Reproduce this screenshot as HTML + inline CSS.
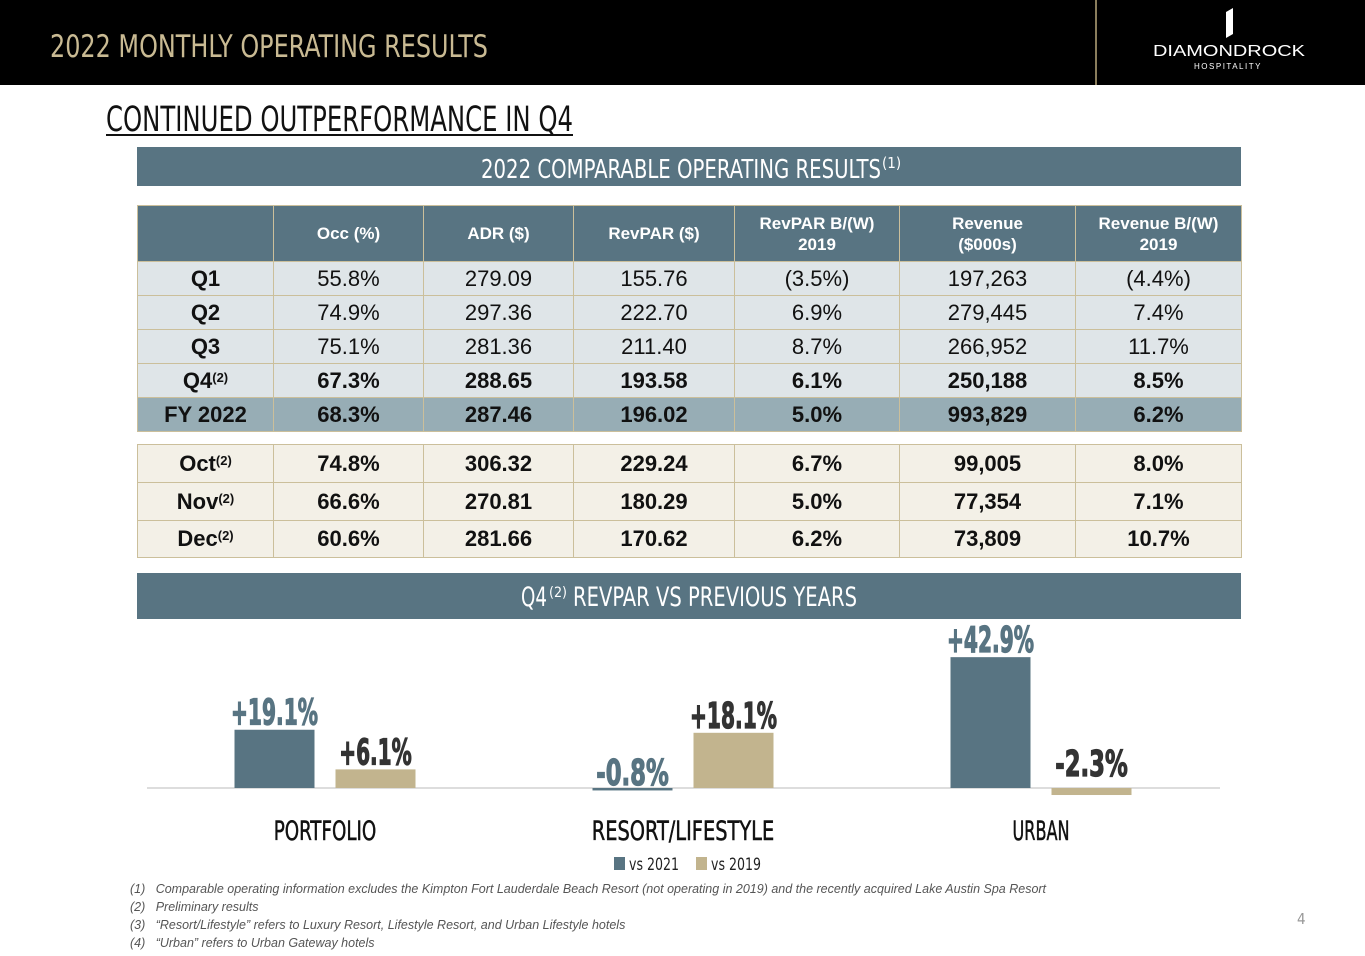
<!DOCTYPE html>
<html><head><meta charset="utf-8">
<style>
body{margin:0;width:1365px;height:956px;position:relative;background:#fff;font-family:"Liberation Sans",sans-serif;overflow:hidden}
.abs{position:absolute}
table{border-collapse:collapse;table-layout:fixed;position:absolute;left:137px;width:1104px}
td{border:1px solid #cbbf9b;text-align:center;color:#111;font-size:22px;padding:0}
.t1 td{background:#dfe5e8}
.t1 tr.hd td{background:#587482;color:#fff;font-weight:bold;font-size:17px;line-height:21px}
.t1 tr.fy td{background:#97adb5;font-weight:bold}
.t1 tr.b td{font-weight:bold}
td.lab{font-weight:bold}
.t2 td{background:#f3f0e7;font-weight:bold}
sup{font-size:13px;vertical-align:6px;font-weight:bold}
</style></head><body>
<div class="abs" style="left:0;top:0;width:1365px;height:85px;background:#000"></div>
<div class="abs" style="left:1095px;top:0;width:2px;height:85px;background:#8a7d5c"></div>
<svg class="abs" style="left:0;top:0" width="1365" height="956">
<text x="50" y="57" font-family="DejaVu Sans Condensed, Liberation Sans, sans-serif" font-size="31" fill="#c9ba93" textLength="438" lengthAdjust="spacingAndGlyphs">2022 MONTHLY OPERATING RESULTS</text>
<g>
<path d="M1226 12 L1233 8 L1233 34 L1226 38 Z" fill="#fff"/>
<text x="1229" y="56" text-anchor="middle" font-size="16" fill="#fff" font-family="Liberation Sans, sans-serif" textLength="152" lengthAdjust="spacingAndGlyphs">DIAMONDROCK</text>
<text x="1228" y="69" text-anchor="middle" font-size="8" fill="#fff" font-family="Liberation Sans, sans-serif" letter-spacing="1.5">HOSPITALITY</text>
</g>
<text x="106" y="131" font-family="DejaVu Sans Condensed, Liberation Sans, sans-serif" font-size="35" fill="#111" textLength="467" lengthAdjust="spacingAndGlyphs">CONTINUED OUTPERFORMANCE IN Q4</text>
<rect x="106" y="134" width="467" height="2" fill="#111"/>
<rect x="137" y="147" width="1104" height="39" fill="#587482"/>
<text x="481" y="178" font-family="DejaVu Sans Condensed, Liberation Sans, sans-serif" font-size="26" fill="#fff" textLength="400" lengthAdjust="spacingAndGlyphs">2022 COMPARABLE OPERATING RESULTS</text>
<text x="882" y="168" font-family="DejaVu Sans Condensed, sans-serif" font-size="15" fill="#fff">(1)</text>
<rect x="137" y="573" width="1104" height="46" fill="#587482"/>
<text x="521" y="606" font-family="DejaVu Sans Condensed, Liberation Sans, sans-serif" font-size="27" fill="#fff" textLength="26" lengthAdjust="spacingAndGlyphs">Q4</text>
<text x="549" y="597" font-family="DejaVu Sans Condensed, sans-serif" font-size="14" fill="#fff" textLength="18" lengthAdjust="spacingAndGlyphs">(2)</text>
<text x="573" y="606" font-family="DejaVu Sans Condensed, Liberation Sans, sans-serif" font-size="27" fill="#fff" textLength="284" lengthAdjust="spacingAndGlyphs">REVPAR VS PREVIOUS YEARS</text>
<g id="chart"></g>
<text x="1297" y="924" font-size="15" fill="#999" font-family="DejaVu Sans Condensed, sans-serif">4</text>
</svg>

<table class="t1" style="top:205px">
<colgroup><col style="width:136px"><col style="width:150px"><col style="width:150px"><col style="width:161px"><col style="width:165px"><col style="width:176px"><col style="width:166px"></colgroup>
<tr class="hd" style="height:56px"><td></td><td>Occ (%)</td><td>ADR ($)</td><td>RevPAR ($)</td><td>RevPAR B/(W)<br>2019</td><td>Revenue<br>($000s)</td><td>Revenue B/(W)<br>2019</td></tr>
<tr style="height:34px"><td class="lab">Q1</td><td>55.8%</td><td>279.09</td><td>155.76</td><td>(3.5%)</td><td>197,263</td><td>(4.4%)</td></tr>
<tr style="height:34px"><td class="lab">Q2</td><td>74.9%</td><td>297.36</td><td>222.70</td><td>6.9%</td><td>279,445</td><td>7.4%</td></tr>
<tr style="height:34px"><td class="lab">Q3</td><td>75.1%</td><td>281.36</td><td>211.40</td><td>8.7%</td><td>266,952</td><td>11.7%</td></tr>
<tr class="b" style="height:34px"><td class="lab">Q4<sup>(2)</sup></td><td>67.3%</td><td>288.65</td><td>193.58</td><td>6.1%</td><td>250,188</td><td>8.5%</td></tr>
<tr class="fy" style="height:34px"><td>FY 2022</td><td>68.3%</td><td>287.46</td><td>196.02</td><td>5.0%</td><td>993,829</td><td>6.2%</td></tr>
</table>
<table class="t2" style="top:444px">
<colgroup><col style="width:136px"><col style="width:150px"><col style="width:150px"><col style="width:161px"><col style="width:165px"><col style="width:176px"><col style="width:166px"></colgroup>
<tr style="height:38px"><td>Oct<sup>(2)</sup></td><td>74.8%</td><td>306.32</td><td>229.24</td><td>6.7%</td><td>99,005</td><td>8.0%</td></tr>
<tr style="height:38px"><td>Nov<sup>(2)</sup></td><td>66.6%</td><td>270.81</td><td>180.29</td><td>5.0%</td><td>77,354</td><td>7.1%</td></tr>
<tr style="height:37px"><td>Dec<sup>(2)</sup></td><td>60.6%</td><td>281.66</td><td>170.62</td><td>6.2%</td><td>73,809</td><td>10.7%</td></tr>
</table>

<div class="abs" style="left:130px;top:880px;font-size:12.5px;font-style:italic;color:#555;line-height:18px">
<div>(1)&nbsp;&nbsp;&nbsp;Comparable operating information excludes the Kimpton Fort Lauderdale Beach Resort (not operating in 2019) and the recently acquired Lake Austin Spa Resort</div>
<div>(2)&nbsp;&nbsp;&nbsp;Preliminary results</div>
<div>(3)&nbsp;&nbsp;&nbsp;“Resort/Lifestyle” refers to Luxury Resort, Lifestyle Resort, and Urban Lifestyle hotels</div>
<div>(4)&nbsp;&nbsp;&nbsp;“Urban” refers to Urban Gateway hotels</div>
</div>

<script>
const categories = ["PORTFOLIO","RESORT/LIFESTYLE","URBAN"];
const vs2021 = [19.1, -0.8, 42.9];
const vs2019 = [6.1, 18.1, -2.3];
const seriesNames = ["vs 2021","vs 2019"];
const NS="http://www.w3.org/2000/svg";
const g=document.getElementById('chart');
const baseY=788, pxPer=3.05, centers=[325,683,1041], bw=80, gap=21;
const colors=["#587482","#c2b48e"];
function y(v){return baseY - v*pxPer;}
function mk(t,a){const e=document.createElementNS(NS,t);for(const k in a)e.setAttribute(k,a[k]);g.appendChild(e);return e;}
const ax=mk('line',{x1:147,x2:1220,y1:baseY,y2:baseY,stroke:'#ddd','stroke-width':2});


const F="DejaVu Sans Condensed, Liberation Sans, sans-serif";
[vs2021,vs2019].forEach((ser,si)=>{
  ser.forEach((v,i)=>{
    const x=centers[i]-bw-gap/2+si*(bw+gap);
    const top=Math.min(y(v),baseY), h=Math.max(Math.abs(y(v)-baseY),2);
    const r=mk('rect',{x:x,y:top,width:bw,height:h,fill:colors[si]});
    
    
    const ly=v>=0?y(v)-5:baseY-(v<-1.5?12:3);
    const s=(v>0?'+':'')+v.toFixed(1)+'%';
    const col=si===0?'#587482':'#333';
    const t=mk('text',{x:x+bw/2,y:ly,'text-anchor':'middle','font-family':F,'font-size':36,'font-weight':'bold',fill:col,stroke:col,'stroke-width':1.2,textLength:s.length*14.5,lengthAdjust:'spacingAndGlyphs'});
    t.textContent=s;
    
    
  });
});
categories.forEach((c,i)=>{
  const t=mk('text',{x:centers[i],y:840,'text-anchor':'middle','font-family':F,'font-size':27,fill:'#111',stroke:'#111','stroke-width':0.5,textLength:c.length*11.4,lengthAdjust:'spacingAndGlyphs'});
  t.textContent=c;
  
  
});
seriesNames.forEach((n,i)=>{
  const x=614+i*82;
  const r=mk('rect',{x:x,y:857,width:11,height:13,fill:colors[i]});
  
  
  const t=mk('text',{x:x+15,y:870,'font-family':F,'font-size':17,fill:'#222',textLength:50,lengthAdjust:'spacingAndGlyphs'});
  t.textContent=n;
  
  
});
</script>
</body></html>
